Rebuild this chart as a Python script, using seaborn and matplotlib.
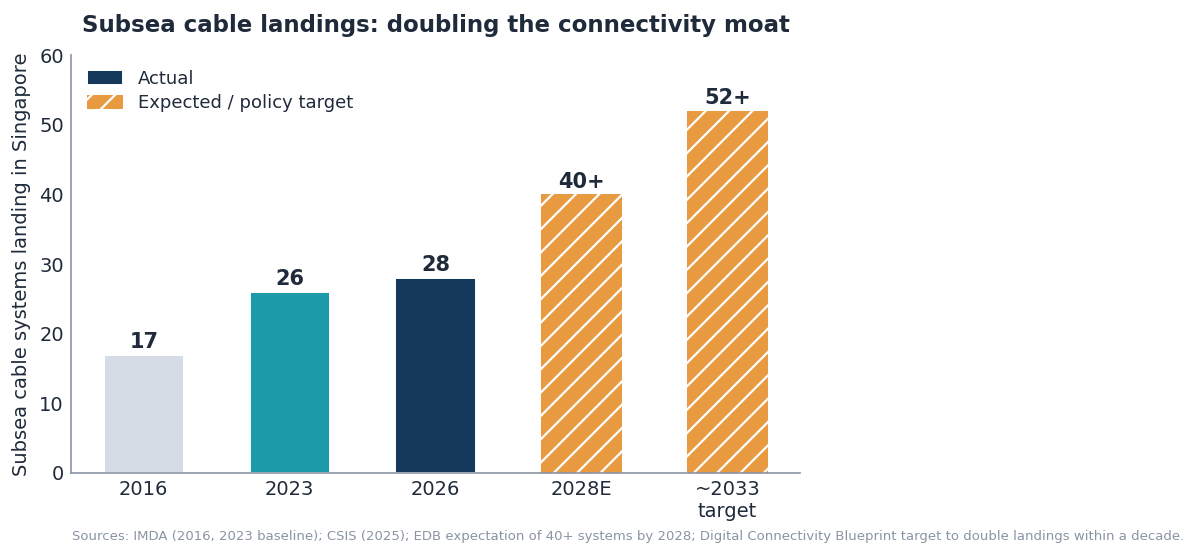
import numpy as np
import pandas as pd
import matplotlib
matplotlib.use("Agg")
import matplotlib.pyplot as plt
from matplotlib.patches import Patch
import seaborn as sb

# data
periods = ["2016", "2023", "2026", "2028E", "~2033\ntarget"]
landings = [17, 26, 28, 40, 52]
labels = ["17", "26", "28", "40+", "52+"]
bar_colors = ["#d5dce6", "#1b9aaa", "#14395a", "#e89a40", "#e89a40"]
expected = [False, False, False, True, True]

# render at higher dpi so the hatch gets the right spacing, scale points down to match
DPI = 140
K = 100 / DPI

sb.set_style("white")
plt.rcParams["font.family"] = ["DejaVu Sans"]
plt.rcParams["hatch.color"] = "white"
plt.rcParams["hatch.linewidth"] = 1.6 * K

dark = "#1f2a3a"
grey = "#8a94a3"
data = pd.DataFrame({"period": periods, "landings": landings})

fig = plt.figure(figsize=(12 * K, 5.57 * K), dpi=DPI)
ax = fig.add_axes([0.059, 0.151, 0.608, 0.75])
sb.barplot(data=data, x="period", y="landings", hue="period", palette=bar_colors,
           width=0.55, legend=False, ax=ax, saturation=1)

for bar, exp, lab in zip(ax.patches, expected, labels):
    if exp:
        bar.set_hatch("//")
        bar.set_edgecolor("white")
        bar.set_linewidth(0)
    ax.text(bar.get_x() + bar.get_width() / 2, bar.get_height() + 0.4, lab,
            ha="center", va="bottom", fontsize=15 * K, fontweight="bold", color=dark)

ax.set_xlim(-0.5, 4.5)
ax.set_ylim(0, 60)
ax.set_yticks(np.arange(0, 61, 10))
ax.set_xlabel("")
ax.set_ylabel("Subsea cable systems landing in Singapore", fontsize=14 * K, color=dark,
              labelpad=6 * K)
ax.tick_params(axis="both", labelsize=14 * K, colors=dark, length=0, pad=5 * K)
for s in ["top", "right"]:
    ax.spines[s].set_visible(False)
for s in ["left", "bottom"]:
    ax.spines[s].set_color(grey)
    ax.spines[s].set_linewidth(1.2 * K)

handles = [Patch(facecolor="#14395a", label="Actual"),
           Patch(facecolor="#e89a40", hatch="//", edgecolor="white", linewidth=0,
                 label="Expected / policy target")]
ax.legend(handles=handles, loc="upper left", frameon=False, fontsize=13 * K,
          labelcolor=dark, bbox_to_anchor=(0.0, 1.004), labelspacing=0.35,
          handlelength=2.0, handleheight=0.85, handletextpad=0.8)

fig.text(0.068, 0.955, "Subsea cable landings: doubling the connectivity moat",
         fontsize=16.5 * K, fontweight="bold", color=dark, va="center")
fig.text(0.06, 0.037, "Sources: IMDA (2016, 2023 baseline); CSIS (2025); EDB expectation of 40+ systems by 2028; "
         "Digital Connectivity Blueprint target to double landings within a decade.",
         fontsize=9.6 * K, color=grey, va="center")

fig.savefig("out.png", dpi=DPI)
